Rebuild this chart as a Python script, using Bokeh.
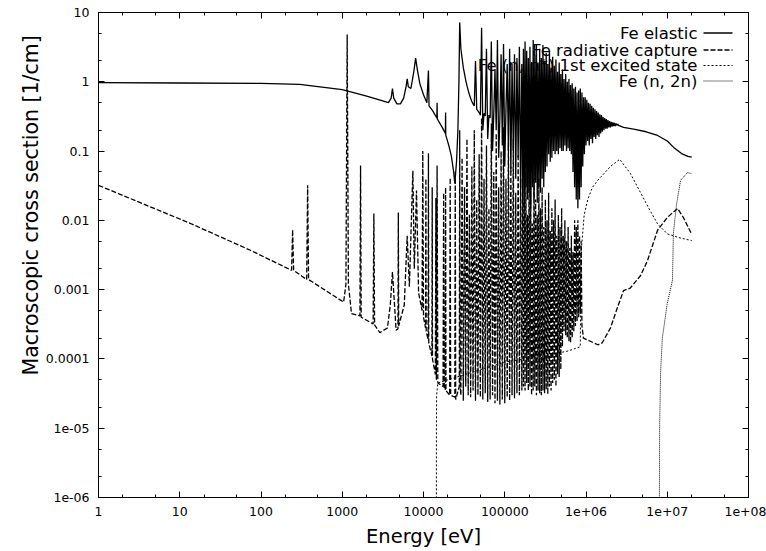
from bokeh.core.properties import value
from bokeh.embed import file_html
from bokeh.models import CustomJSTickFormatter, FixedTicker, LogAxis, Title
from bokeh.plotting import figure
from bokeh.resources import INLINE

# Macroscopic cross sections of natural iron [1/cm] against neutron energy [eV].
# Points are (energy, value) pairs; the resonance forest shares one energy grid.

elastic_low = [
    (1, 0.97), (10, 0.96), (100, 0.95), (300, 0.92), (1000, 0.77), (2000, 0.62),
    (3000, 0.54), (3700, 0.5), (4000, 0.58), (4150, 0.8), (4300, 0.58), (4700, 0.48),
    (5200, 0.48), (5700, 0.58), (6100, 0.85), (6300, 1.1), (6500, 0.85), (7000, 0.8),
    (7600, 1.4), (8000, 2.2), (8400, 1.5), (9000, 0.95), (10000, 0.65), (11000, 0.5),
    (11500, 1.45), (11700, 0.45), (13000, 0.38), (14600, 0.3), (14700, 0.5), (14800, 0.29),
    (17000, 0.22), (18600, 0.18), (18700, 0.36), (18800, 0.17), (20500, 0.12), (22000, 0.085),
    (23500, 0.05), (24300, 0.034), (25500, 0.07), (26500, 0.2), (27300, 1.0), (27900, 7.2),
    (28400, 4.5),
]

forest_energy = [
    28840, 29850, 30900, 31990, 33110, 34280, 35480, 36730, 38020, 39360,
    40740, 42170, 43650, 45190, 46770, 48420, 50120, 51880, 53700, 55590,
    57540, 59570, 61660, 63830, 66070, 68390, 70790, 73280, 75860, 78520,
    81280, 84140, 87100, 90160, 93330, 96610, 100000, 103500, 107200, 110900,
    114800, 118900, 123000, 127400, 131800, 136500, 141300, 146200, 151400, 156700,
    162200, 166000, 169800, 173800, 177800, 182000, 186200, 190500, 195000, 199500,
    204200, 208900, 213800, 218800, 223900, 229100, 234400, 239900, 245500, 251200,
    257000, 263000, 269200, 275400, 281800, 288400, 295100, 302000, 309000, 316200,
    323600, 331100, 338800, 346700, 354800, 363100, 371500, 380200, 389000, 398100,
    407400, 416900, 426600, 436500, 446700, 457100, 467700, 478600, 489800, 501200,
    512900, 524800, 537000, 549500, 562300, 575400, 588800, 602600, 616600, 631000,
    645700, 660700, 676100, 691800, 707900, 724400, 741300, 758600, 776200, 794300,
    812800, 831800, 851100, 871000, 891300, 912000, 933300, 955000, 977200, 1000000,
    1023000, 1047000, 1072000, 1096000, 1122000, 1148000, 1175000, 1202000, 1230000, 1259000,
    1288000, 1318000, 1349000, 1380000, 1413000, 1445000, 1479000, 1514000, 1549000, 1585000,
    1622000, 1660000, 1698000, 1738000, 1778000, 1820000, 1862000, 1905000, 1950000, 1995000,
    2042000, 2089000, 2138000, 2188000, 2239000, 2291000, 2344000, 2399000, 2455000, 2512000,
]

elastic_forest = [
    3.0, 2.2, 1.6, 1.3, 1.05, 0.88, 0.75, 0.65, 0.58, 0.52,
    0.48, 0.45, 2.0, 0.4, 0.38, 0.36, 0.33, 6.0, 0.2, 0.35,
    0.32, 3.0, 0.15, 0.33, 0.3, 3.8, 0.1, 0.35, 1.5, 0.2,
    4.0, 0.08, 0.3, 2.5, 0.12, 3.5, 0.06, 0.4, 1.8, 0.1,
    3.0, 0.05, 1.8, 0.1, 2.5, 0.04, 2.2, 0.08, 3.2, 0.03,
    1.8, 0.02, 3.0, 0.015, 3.8, 0.03, 2.8, 0.02, 2.2, 0.025,
    3.2, 0.015, 1.8, 0.03, 4.0, 0.02, 2.4, 0.035, 3.4, 0.018,
    1.9, 0.03, 3.0, 0.025, 2.2, 0.04, 3.4, 0.03, 2.0, 0.05,
    2.6, 0.06, 1.8, 0.09, 2.8, 0.07, 1.6, 0.08, 2.3, 0.1,
    1.7, 0.09, 2.1, 0.1, 1.4, 0.09, 1.9, 0.11, 1.3, 0.1,
    1.5, 0.1, 1.1, 0.12, 1.3, 0.1, 1.0, 0.11, 1.1, 0.1,
    0.9, 0.09, 0.95, 0.05, 0.8, 0.03, 0.85, 0.02, 0.7, 0.015,
    0.75, 0.02, 0.8, 0.03, 0.7, 0.06, 0.6, 0.09, 0.6, 0.12,
    0.55, 0.14, 0.5, 0.12, 0.48, 0.15, 0.45, 0.13, 0.42, 0.16,
    0.4, 0.15, 0.38, 0.17, 0.36, 0.16, 0.34, 0.18, 0.33, 0.19,
    0.31, 0.2, 0.3, 0.21, 0.29, 0.21, 0.28, 0.22, 0.27, 0.22,
    0.265, 0.225, 0.26, 0.23, 0.255, 0.23, 0.25, 0.235, 0.245, 0.235,
]

elastic_tail = [
    (2.9e6, 0.22), (4.0e6, 0.205), (5.5e6, 0.19), (7.6e6, 0.168), (1.0e7, 0.14),
    (1.2e7, 0.113), (1.5e7, 0.092), (1.8e7, 0.084), (2.0e7, 0.082),
]

capture_low = [
    (1, 0.032), (13.6, 0.009), (74, 0.0037), (238, 0.0019), (245, 0.0073), (252, 0.0019),
    (365, 0.0014), (375, 0.032), (385, 0.0014), (1040, 0.00066), (1110, 0.0012), (1150, 4.8),
    (1190, 0.0012), (1300, 0.00045), (1650, 0.00042), (1680, 0.062), (1710, 0.0004),
    (2400, 0.00032), (2450, 0.0126), (2500, 0.00031), (2900, 0.00024), (3600, 0.00028),
    (3900, 0.0006), (4150, 0.0018), (4400, 0.0006), (4600, 0.00026), (4850, 0.00027),
    (4900, 0.013), (4950, 0.0003), (5800, 0.0006), (6300, 0.006), (6700, 0.0011),
    (7400, 0.052), (7700, 0.002), (8200, 0.027), (8700, 0.0009), (9600, 0.0005),
    (9800, 0.1), (10000, 0.0004), (10600, 0.00028), (10700, 0.04), (10800, 0.00025),
    (11400, 0.00019), (11500, 0.093), (11600, 0.00017), (12700, 0.00011), (12800, 0.03),
    (12900, 0.0001), (14000, 6e-5), (14200, 0.021), (14400, 5e-5), (14700, 0.062),
    (15000, 4.5e-5), (17400, 4e-5), (17700, 0.025), (18000, 3.8e-5), (18500, 3.6e-5),
    (18700, 0.03), (18900, 3.5e-5), (21000, 3e-5), (21300, 0.041), (21600, 3e-5),
    (24300, 2.8e-5), (24600, 0.052), (24900, 2.6e-5), (27600, 4e-5), (27900, 0.2),
    (28300, 4e-5),
]

capture_forest = [
    3e-5, 0.08, 2.5e-5, 0.03, 4e-5, 0.15, 3e-5, 0.012, 2.8e-5, 0.06,
    3.5e-5, 0.2, 2.5e-5, 0.02, 3e-5, 0.09, 2.8e-5, 0.3, 2.6e-5, 0.04,
    3.2e-5, 0.12, 2.4e-5, 0.015, 2.6e-5, 0.25, 3e-5, 0.05, 2.3e-5, 0.18,
    2.5e-5, 0.03, 2.2e-5, 0.1, 2.6e-5, 0.22, 2.3e-5, 0.04, 2.8e-5, 0.13,
    2.5e-5, 0.06, 3e-5, 0.15, 2.7e-5, 0.025, 3.2e-5, 0.09, 3e-5, 0.04,
    3.5e-5, 0.1, 4e-5, 0.02, 3.5e-5, 0.05, 4.5e-5, 0.012, 3.5e-5, 0.08,
    4e-5, 0.03, 3e-5, 0.009, 3.5e-5, 0.06, 4e-5, 0.02, 3e-5, 0.012,
    3.5e-5, 0.04, 3.2e-5, 0.015, 3e-5, 0.03, 3.5e-5, 0.008, 3.2e-5, 0.02,
    3.6e-5, 0.01, 3.1e-5, 0.025, 4e-5, 0.007, 3.5e-5, 0.015, 4.5e-5, 0.01,
    5e-5, 0.02, 4e-5, 0.006, 6e-5, 0.012, 5.5e-5, 0.008, 7e-5, 0.015,
    1.5e-4, 0.006, 2.5e-4, 0.01, 2.2e-4, 0.005, 2e-4, 0.008, 1.8e-4, 0.004,
    1.7e-4, 0.006, 2e-4, 0.0035, 2.5e-4, 0.01, 3e-4, 0.008, 3.5e-4, 0.01,
    4e-4, 0.006, 4.5e-4, 0.005, 3e-4,
]

capture_tail = [
    (9.3e5, 2e-4), (1.13e6, 1.8e-4), (1.4e6, 1.6e-4), (1.58e6, 1.7e-4), (2.0e6, 2.8e-4),
    (2.5e6, 6e-4), (2.9e6, 9.7e-4), (3.5e6, 1.05e-3), (4.7e6, 1.6e-3), (5.7e6, 2.6e-3),
    (7.6e6, 7.2e-3), (1.0e7, 0.011), (1.34e7, 0.0148), (1.58e7, 0.011), (2.0e7, 0.0063),
]

inelastic = [
    (14400, 5e-7), (14420, 1e-5), (14500, 3e-5), (15000, 4.5e-5), (20000, 5e-5),
    (50000, 7e-5), (100000, 9e-5), (300000, 1.1e-4), (600000, 1.3e-4), (850000, 1.5e-4),
    (862000, 1e-3), (880000, 0.004), (950000, 0.012), (1.05e6, 0.02), (1.2e6, 0.03),
    (1.45e6, 0.04), (1.6e6, 0.045), (2.0e6, 0.06), (2.6e6, 0.076), (3.5e6, 0.048),
    (4.7e6, 0.025), (6.0e6, 0.0146), (7.6e6, 0.0089), (1.0e7, 0.0064), (1.34e7, 0.0057),
    (2.0e7, 0.0051),
]

n2n = [
    (8.0e6, 5e-7), (8.05e6, 1e-5), (8.3e6, 6.8e-5), (8.7e6, 2e-4), (1.0e7, 6.3e-4),
    (1.16e7, 1.37e-3), (1.19e7, 6.5e-3), (1.3e7, 0.017), (1.46e7, 0.038), (1.78e7, 0.049),
    (2.0e7, 0.047),
]

x_tick_exponents = [0, 1, 2, 3, 4, 5, 6, 7, 8]
x_tick_labels = ["1", "10", "100", "1000", "10000", "100000", "1e+06", "1e+07", "1e+08"]
y_tick_exponents = [-6, -5, -4, -3, -2, -1, 0, 1]
y_tick_labels = ["1e-06", "1e-05", "0.0001", "0.001", "0.01", "0.1", "1", "10"]

legend_labels = ["Fe elastic", "Fe radiative capture", "Fe (n, n*) 1st excited state", "Fe (n, 2n)"]

FONT = "DejaVu Sans"


def unzip(pairs):
    return [p[0] for p in pairs], [p[1] for p in pairs]


el_lo_e, el_lo_v = unzip(elastic_low)
el_hi_e, el_hi_v = unzip(elastic_tail)
elastic_e = el_lo_e + forest_energy + el_hi_e
elastic_v = el_lo_v + elastic_forest + el_hi_v

ca_lo_e, ca_lo_v = unzip(capture_low)
ca_hi_e, ca_hi_v = unzip(capture_tail)
capture_e = ca_lo_e + forest_energy[:len(capture_forest)] + ca_hi_e
capture_v = ca_lo_v + capture_forest + ca_hi_v

inel_e, inel_v = unzip(inelastic)
n2n_e, n2n_v = unzip(n2n)

# Frame geometry in canvas pixels, used to place the key.
W, H = 766, 551
LEFT, RIGHT, TOP, BOTTOM = 98, 748, 12, 497
X_DECADES = (0, 8)
Y_DECADES = (-6, 1)


def to_data(px, py):
    lx = X_DECADES[0] + (X_DECADES[1] - X_DECADES[0]) * (px - LEFT) / (RIGHT - LEFT)
    ly = Y_DECADES[1] - (Y_DECADES[1] - Y_DECADES[0]) * (py - TOP) / (BOTTOM - TOP)
    return 10 ** lx, 10 ** ly


p = figure(
    width=W, height=H,
    x_axis_type="log", y_axis_type="log",
    x_range=(10 ** X_DECADES[0], 10 ** X_DECADES[1]),
    y_range=(10 ** Y_DECADES[0], 10 ** Y_DECADES[1]),
    output_backend="svg", toolbar_location=None,
    min_border_left=LEFT, min_border_right=W - RIGHT,
    min_border_top=TOP, min_border_bottom=H - BOTTOM,
)
p.title.visible = False
p.background_fill_color = "white"
p.border_fill_color = "white"
p.outline_line_color = "black"
p.outline_line_width = 1
p.grid.visible = False

x_major = [10.0 ** k for k in x_tick_exponents]
x_minor = [m * 10.0 ** k for k in x_tick_exponents[:-1] for m in (2, 5)]
y_major = [10.0 ** k for k in y_tick_exponents]
y_minor = [m * 10.0 ** k for k in y_tick_exponents[:-1] for m in (2, 5)]

fmt_code = "const e = Math.round(Math.log10(tick)); const i = exps.indexOf(e); return i >= 0 ? labels[i] : '';"
x_fmt = CustomJSTickFormatter(args=dict(exps=x_tick_exponents, labels=x_tick_labels), code=fmt_code)
y_fmt = CustomJSTickFormatter(args=dict(exps=y_tick_exponents, labels=y_tick_labels), code=fmt_code)
blank_fmt = CustomJSTickFormatter(code="return ' ';")


def style_axis(ax, show_labels, standoff):
    ax.axis_line_color = "black"
    ax.axis_line_width = 1
    ax.major_tick_in = 6
    ax.major_tick_out = 0
    ax.minor_tick_in = 3
    ax.minor_tick_out = 0
    ax.major_tick_line_color = "black"
    ax.minor_tick_line_color = "black"
    ax.major_label_standoff = standoff
    ax.major_label_text_font = FONT
    ax.major_label_text_color = "black"
    ax.major_label_text_font_size = "12.5px" if show_labels else "1px"


xa = p.xaxis[0]
xa.ticker = FixedTicker(ticks=x_major, minor_ticks=x_minor)
xa.formatter = x_fmt
style_axis(xa, True, 9)
xa.axis_label = "Energy [eV]"
xa.axis_label_text_font = FONT
xa.axis_label_text_font_size = "19.5px"
xa.axis_label_text_font_style = "normal"
xa.axis_label_text_color = "black"
xa.axis_label_standoff = 6

ya = p.yaxis[0]
ya.ticker = FixedTicker(ticks=y_major, minor_ticks=y_minor)
ya.formatter = y_fmt
style_axis(ya, True, 9)

top_axis = LogAxis(ticker=FixedTicker(ticks=x_major, minor_ticks=x_minor), formatter=blank_fmt)
style_axis(top_axis, False, 0)
p.add_layout(top_axis, "above")

right_axis = LogAxis(ticker=FixedTicker(ticks=y_major, minor_ticks=y_minor), formatter=blank_fmt)
style_axis(right_axis, False, 0)
p.add_layout(right_axis, "right")

# Vertical axis title: starts 122 px above the frame bottom and runs upward
p.add_layout(Title(text="Macroscopic cross section [1/cm]", align="left", offset=122,
                   text_font=FONT, text_font_size="20.5px", text_font_style="normal",
                   text_color="black", standoff=0), "left")

# Key text (drawn first so the curves pass over it)
key_rows = [32.5, 49.5, 65.0, 80.5]
key_text_x, _ = to_data(697, 0)
key_y = [to_data(0, r)[1] for r in key_rows]
p.text(x=[key_text_x] * len(legend_labels), y=key_y, text=legend_labels,
       text_align="right", text_baseline="middle",
       text_font=value(FONT), text_font_size="16.5px", text_color="black")

styles = [
    dict(line_dash="solid", line_width=1.3),
    dict(line_dash="5 2", line_width=1.3),
    dict(line_dash="2 2", line_width=1.0),
    dict(line_dash="1 1", line_width=1.0),
]

p.line(elastic_e, elastic_v, line_color="black", **styles[0])
p.line(capture_e, capture_v, line_color="black", **styles[1])
p.line(inel_e, inel_v, line_color="black", **styles[2])
p.line(n2n_e, n2n_v, line_color="black", **styles[3])

# Key samples
sx0, _ = to_data(703, 0)
sx1, _ = to_data(732, 0)
for yy, st in zip(key_y, styles):
    p.line([sx0, sx1], [yy, yy], line_color="black", **st)

open("out.html", "w").write(file_html(p, INLINE))
